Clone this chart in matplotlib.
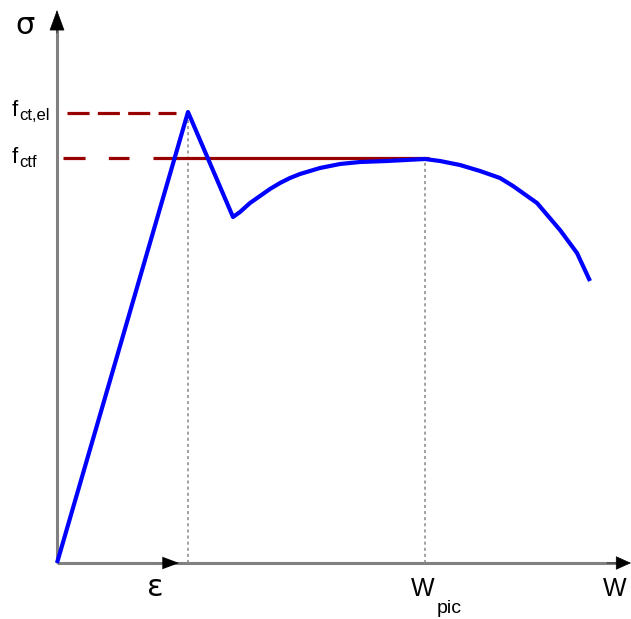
import matplotlib
matplotlib.use("Agg")
import matplotlib.pyplot as plt

# ---- data (arbitrary units: strain/opening vs stress) ----
curve_x = [0, 131, 176, 183, 193, 203, 213, 223, 233, 243, 253, 263, 283, 303, 330, 368,
           383, 403, 423, 443, 456, 480, 503, 520, 533]
curve_y = [0, 451, 346, 351, 360, 367, 374, 380, 385, 389, 392, 395, 399, 401, 402, 404,
           402, 398, 392, 385, 377, 360, 333, 310, 282]
f_ct_el = 451          # elastic tensile strength level
f_ctf = 405            # post-cracking strength level
eps_peak = 131         # strain at f_ct,el
w_pic = 368            # opening at peak
eps_arrow_tip = 122
labels_f = ["f", "f"]
labels_sub = ["ct,el", "ctf"]

fig = plt.figure(figsize=(6.31, 6.19), dpi=100)
ax = fig.add_axes([0, 0, 1, 1])
ax.set_xlim(-57, 574)
ax.set_ylim(-56, 563)
ax.axis("off")

axis_col = "#808080"
red = "#990000"
blue = "#0000FF"

# axes
ax.plot([0, 0], [0, 540], color=axis_col, lw=2.2, solid_capstyle="butt", zorder=1)
ax.plot([0, 565], [0, 0], color=axis_col, lw=2.2, solid_capstyle="butt", zorder=1)
ax.annotate("", xy=(0, 553), xytext=(0, 530),
            arrowprops=dict(arrowstyle="-|>,head_length=1.37,head_width=0.5",
                            color="black", lw=0.5, shrinkA=0, shrinkB=0))
ax.annotate("", xy=(574, 0), xytext=(550, 0),
            arrowprops=dict(arrowstyle="-|>,head_length=1.0,head_width=0.45",
                            color="black", lw=0.5, shrinkA=0, shrinkB=0))
ax.annotate("", xy=(eps_arrow_tip, 0), xytext=(eps_arrow_tip - 30, 0),
            arrowprops=dict(arrowstyle="-|>,head_length=1.2,head_width=0.45",
                            color="black", lw=0.01, shrinkA=0, shrinkB=0))

# dotted guides
ax.plot([eps_peak, eps_peak], [0, f_ct_el], color="#888888", lw=1.1,
        linestyle=(0, (2, 2)), zorder=2)
ax.plot([w_pic, w_pic], [0, f_ctf], color="#888888", lw=1.1,
        linestyle=(0, (2, 2)), zorder=2)

# red level lines
ax.plot([10, 119], [f_ct_el - 1, f_ct_el - 1], color=red, lw=2.3,
        linestyle=(0, (6.9, 2.6)), zorder=3)
ax.plot([6, 72], [f_ctf, f_ctf], color=red, lw=2.3,
        linestyle=(0, (6.9, 7.3)), zorder=3)
ax.plot([96, w_pic + 4], [f_ctf, f_ctf], color=red, lw=2.3,
        solid_capstyle="butt", zorder=3)

# curve
ax.plot(curve_x, curve_y, color=blue, lw=3.0, solid_joinstyle="round",
        solid_capstyle="butt", zorder=4)

# texts
ax.text(-32, 538, "σ", fontsize=22, ha="center", va="center", family="DejaVu Sans")
ax.text(98, -25, "ε", fontsize=22, ha="center", va="center", family="DejaVu Sans")
fam = "Liberation Sans"
ax.text(-45, 447, labels_f[0], fontsize=16, ha="left", va="baseline", family=fam)
ax.text(-38, 443, labels_sub[0], fontsize=12, ha="left", va="baseline", family=fam)
ax.text(-45, 400, labels_f[1], fontsize=16, ha="left", va="baseline", family=fam)
ax.text(-38, 396, labels_sub[1], fontsize=12, ha="left", va="baseline", family=fam)
ax.text(354, -33, "W", fontsize=18, ha="left", va="baseline", family=fam)
ax.text(380, -50, "pic", fontsize=14, ha="left", va="baseline", family=fam)
ax.text(558, -33, "W", fontsize=18, ha="center", va="baseline", family=fam)

fig.savefig("out.png", dpi=100)
